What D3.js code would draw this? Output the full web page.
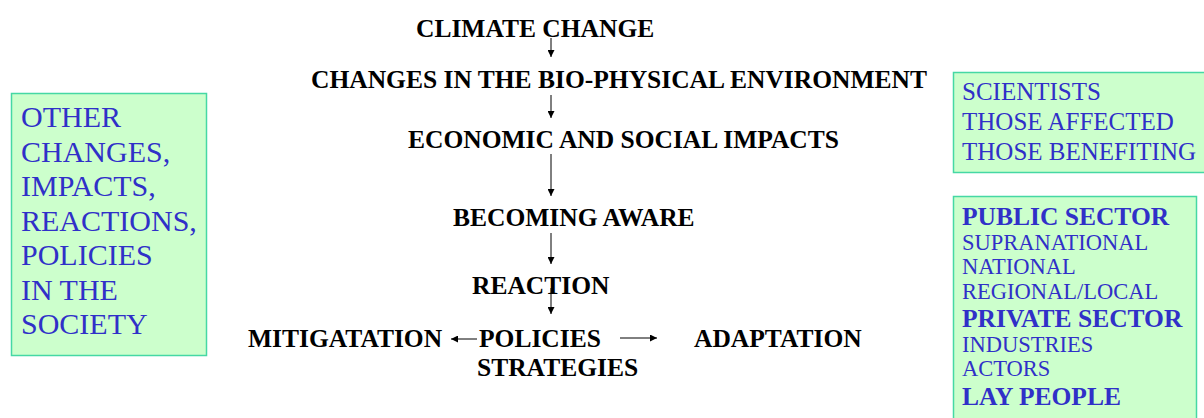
<!DOCTYPE html>
<html>
<head>
<meta charset="utf-8">
<script src="https://cdn.jsdelivr.net/npm/d3@7"></script>
<style>
  html, body { margin: 0; padding: 0; background: #fff; }
  svg { display: block; }
</style>
</head>
<body>
<div id="viz"></div>
<script>
// chain of steps down the middle
var flowSteps = ["CLIMATE CHANGE", "CHANGES IN THE BIO-PHYSICAL ENVIRONMENT",
                 "ECONOMIC AND SOCIAL IMPACTS", "BECOMING AWARE", "REACTION"];
var responseLabels = ["MITIGATATION", "POLICIES", "ADAPTATION"];
var policyNote = "STRATEGIES";

// side boxes
var contextLines = ["OTHER", "CHANGES,", "IMPACTS,", "REACTIONS,", "POLICIES", "IN THE", "SOCIETY"];
var actorLines = ["SCIENTISTS", "THOSE AFFECTED", "THOSE BENEFITING"];
var sectorLines = ["PUBLIC SECTOR", "SUPRANATIONAL", "NATIONAL", "REGIONAL/LOCAL",
                   "PRIVATE SECTOR", "INDUSTRIES", "ACTORS", "LAY PEOPLE"];
var sectorHeads = ["PUBLIC SECTOR", "PRIVATE SECTOR", "LAY PEOPLE"];

var width = 1204,
    height = 418,
    serif = '"Liberation Serif", "Times New Roman", serif',
    flowSize = '25.5px',
    boxFill = '#ccffcc',
    boxLine = '#45d8a4',
    boxText = '#3030c8';

// layout of the flow (baseline and left edge of each step)
var flowY = [37, 88, 148, 226, 294],
    flowX = [416, 311, 408, 453, 472],
    responseY = 347,
    responseX = [248, 479, 694],
    axisX = 551;

var svg = d3.select('#viz').append('svg')
    .attr('width', width)
    .attr('height', height);

svg.append('defs').append('marker')
    .attr('id', 'head')
    .attr('viewBox', '0 0 10 10')
    .attr('refX', 10)
    .attr('refY', 5)
    .attr('markerWidth', 7)
    .attr('markerHeight', 7)
    .attr('markerUnits', 'userSpaceOnUse')
    .attr('orient', 'auto')
    .append('path')
    .attr('d', 'M0,0 L10,5 L0,10 Z')
    .attr('fill', '#000');

// flow text
svg.append('g').selectAll('text')
    .data(flowSteps)
    .enter().append('text')
    .attr('x', function(d, i) { return flowX[i]; })
    .attr('y', function(d, i) { return flowY[i]; })
    .style('font-family', serif)
    .style('font-weight', 'bold')
    .style('font-size', flowSize)
    .text(function(d) { return d; });

svg.append('g').selectAll('text')
    .data(responseLabels)
    .enter().append('text')
    .attr('x', function(d, i) { return responseX[i]; })
    .attr('y', responseY)
    .style('font-family', serif)
    .style('font-weight', 'bold')
    .style('font-size', flowSize)
    .text(function(d) { return d; });

svg.append('text')
    .attr('x', 477)
    .attr('y', 376)
    .style('font-family', serif)
    .style('font-weight', 'bold')
    .style('font-size', flowSize)
    .text(policyNote);

// arrows down the flow: from under one step to the next
var downArrows = [[38, 57], [95, 118], [154, 196], [233, 264], [288, 314]];
var arrows = svg.append('g')
    .attr('stroke', '#000')
    .attr('stroke-width', 1);

arrows.selectAll('line.down')
    .data(downArrows)
    .enter().append('line')
    .attr('class', 'down')
    .attr('x1', axisX).attr('x2', axisX)
    .attr('y1', function(d) { return d[0]; })
    .attr('y2', function(d) { return d[1]; })
    .attr('marker-end', 'url(#head)');

arrows.append('line')
    .attr('x1', 477).attr('y1', 339)
    .attr('x2', 451).attr('y2', 339)
    .attr('marker-end', 'url(#head)');

arrows.append('line')
    .attr('x1', 620).attr('y1', 338)
    .attr('x2', 657).attr('y2', 338)
    .attr('marker-end', 'url(#head)');

// left box
var left = svg.append('g');
left.append('rect')
    .attr('x', 11.5).attr('y', 93.5)
    .attr('width', 195).attr('height', 262)
    .attr('fill', boxFill)
    .attr('stroke', boxLine)
    .attr('stroke-width', 1.5);

left.selectAll('text')
    .data(contextLines)
    .enter().append('text')
    .attr('x', 21)
    .attr('y', function(d, i) { return 127 + i * 34.5; })
    .style('font-family', serif)
    .style('font-size', '30px')
    .attr('fill', boxText)
    .text(function(d) { return d; });

// right top box
var actors = svg.append('g');
actors.append('rect')
    .attr('x', 953.5).attr('y', 72.5)
    .attr('width', 270).attr('height', 100)
    .attr('fill', boxFill)
    .attr('stroke', boxLine)
    .attr('stroke-width', 1.5);

actors.selectAll('text')
    .data(actorLines)
    .enter().append('text')
    .attr('x', 962)
    .attr('y', function(d, i) { return 100 + i * 30; })
    .style('font-family', serif)
    .style('font-size', '25px')
    .attr('fill', boxText)
    .text(function(d) { return d; });

// right bottom box
var sectors = svg.append('g');
sectors.append('rect')
    .attr('x', 953.5).attr('y', 196.5)
    .attr('width', 243).attr('height', 240)
    .attr('fill', boxFill)
    .attr('stroke', boxLine)
    .attr('stroke-width', 1.5);

var sy = [], y = 225;
sectorLines.forEach(function(d, i) {
    if (i > 0) y += sectorHeads.indexOf(d) >= 0 ? 28.5 : 24.5;
    sy.push(y);
});

sectors.selectAll('text')
    .data(sectorLines)
    .enter().append('text')
    .attr('x', 962)
    .attr('y', function(d, i) { return sy[i]; })
    .style('font-family', serif)
    .style('font-weight', function(d) { return sectorHeads.indexOf(d) >= 0 ? 'bold' : 'normal'; })
    .style('font-size', function(d) { return sectorHeads.indexOf(d) >= 0 ? '25.5px' : '22.5px'; })
    .attr('fill', boxText)
    .text(function(d) { return d; });
</script>
</body>
</html>
